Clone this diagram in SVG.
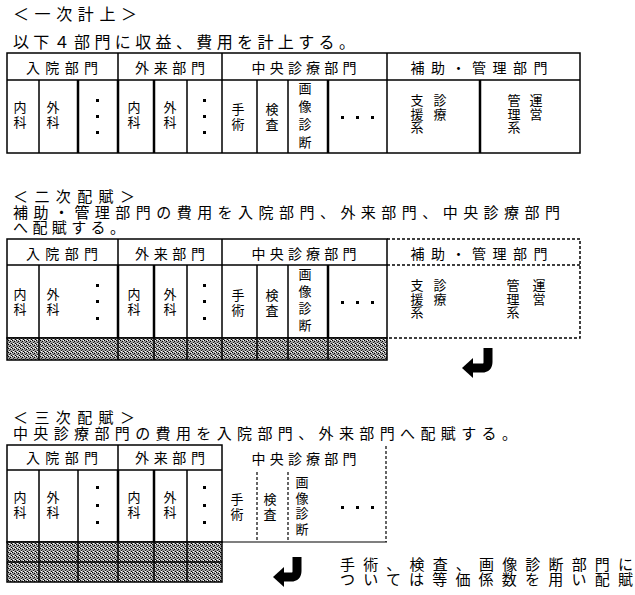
<svg xmlns="http://www.w3.org/2000/svg" width="635" height="595" viewBox="0 0 635 595">
<style>
.t{font-family:"Noto Sans CJK JP","Noto Sans CJK SC",sans-serif;fill:#000}
.ti{font-size:16px}
.ti2{font-size:15px}
.hd{font-size:14px;text-anchor:middle}
.vt{font-size:13px;writing-mode:vertical-rl;text-anchor:start}
.s2{letter-spacing:2px}
.s5{letter-spacing:5px}
.s4{letter-spacing:4px}
.s25{letter-spacing:2.5px}
.s05{letter-spacing:0.5px}
.ln{stroke:#000;stroke-width:1.5;fill:none}
.thk{stroke-width:2.5}
.dsh{stroke-dasharray:3,2}
.dot{fill:#000}
.sh{fill:url(#shade);stroke:#000;stroke-width:1.5}
.arr{stroke:#000;stroke-width:9;fill:none}
</style>
<defs>
<pattern id="shade" width="4" height="4" patternUnits="userSpaceOnUse">
<rect width="4" height="4" fill="#a0a0a0"/>
<rect x="0" y="0" width="1" height="1" fill="#000"/>
<rect x="2" y="1" width="1" height="1" fill="#000"/>
<rect x="1" y="2" width="1" height="1" fill="#222"/>
<rect x="3" y="3" width="1" height="1" fill="#000"/>
<rect x="3" y="0" width="1" height="1" fill="#fff"/>
<rect x="1" y="3" width="1" height="1" fill="#fff"/>
</pattern>
</defs>
<rect width="635" height="595" fill="#fff"/>

<!-- Section 1 titles -->
<g id="title1">
<text class="t ti" x="13" y="20" textLength="124" lengthAdjust="spacing">＜一次計上＞</text>
<text class="t ti" x="13" y="48" textLength="342" lengthAdjust="spacing">以下４部門に収益、費用を計上する。</text>
</g>

<!-- Table 1 -->
<g id="table1">
<rect class="ln" x="7" y="53" width="573" height="100"/>
<path class="ln" d="M7,80H580M118,53V80M222,53V80M387,53V80"/>
<path class="ln" d="M39,80V153M187,80V153M222,80V153M257,80V153M288,80V153M387,80V153"/>
<path class="ln thk" d="M78,80V153M118,80V153M154,80V153M328,80V153M480,80V153"/>
<g id="t1-inpatient">
<text class="t hd" x="62" y="73" textLength="72" lengthAdjust="spacing">入院部門</text>
<text class="t vt s2" x="20" y="101">内科</text>
<text class="t vt s2" x="53" y="101">外科</text>
<rect class="dot" x="96" y="99" width="3" height="3"/><rect class="dot" x="96" y="115" width="3" height="3"/><rect class="dot" x="96" y="131" width="3" height="3"/>
</g>
<g id="t1-outpatient">
<text class="t hd" x="170" y="73" textLength="70" lengthAdjust="spacing">外来部門</text>
<text class="t vt s2" x="134" y="101">内科</text>
<text class="t vt s2" x="170" y="101">外科</text>
<rect class="dot" x="203" y="99" width="3" height="3"/><rect class="dot" x="203" y="115" width="3" height="3"/><rect class="dot" x="203" y="131" width="3" height="3"/>
</g>
<g id="t1-central">
<text class="t hd" x="304" y="73" textLength="105" lengthAdjust="spacing">中央診療部門</text>
<text class="t vt s2" x="238" y="103">手術</text>
<text class="t vt s2" x="272" y="103">検査</text>
<text class="t vt s5" x="305" y="82">画像診断</text>
<rect class="dot" x="341" y="116" width="3" height="3"/><rect class="dot" x="356" y="116" width="3" height="3"/><rect class="dot" x="371" y="116" width="3" height="3"/>
</g>
<g id="t1-support">
<text class="t hd" x="479" y="73" textLength="137" lengthAdjust="spacing">補助・管理部門</text>
<text class="t vt s05" x="417" y="94">支援系</text>
<text class="t vt s05" x="440" y="94">診療</text>
<text class="t vt s05" x="514" y="94">管理系</text>
<text class="t vt s05" x="536" y="94">運営</text>
</g>
</g>

<!-- Section 2 titles -->
<g id="title2">
<text class="t ti2" x="13" y="202" textLength="122" lengthAdjust="spacing">＜二次配賦＞</text>
<text class="t ti2" x="13" y="218" textLength="547" lengthAdjust="spacing">補助・管理部門の費用を入院部門、外来部門、中央診療部門</text>
<text class="t ti2" x="13" y="233" textLength="112" lengthAdjust="spacing">へ配賦する。</text>
</g>

<!-- Table 2 -->
<g id="table2">
<rect class="ln" x="7" y="239" width="380" height="99"/>
<path class="ln" d="M7,265H387M118,239V265M222,239V265"/>
<path class="ln" d="M39,265V338M187,265V338M222,265V338M257,265V338M288,265V338"/>
<path class="ln thk" d="M118,265V338M154,265V338M328,265V338"/>
<g id="t2-shade">
<rect class="sh" x="7" y="338" width="380" height="22"/>
<path class="ln" d="M39,338V360M118,338V360M154,338V360M187,338V360M222,338V360M257,338V360M288,338V360M328,338V360"/>
</g>
<g id="t2-inpatient">
<text class="t hd" x="62" y="259" textLength="72" lengthAdjust="spacing">入院部門</text>
<text class="t vt s2" x="20" y="288">内科</text>
<text class="t vt s2" x="53" y="288">外科</text>
<rect class="dot" x="96" y="284" width="3" height="3"/><rect class="dot" x="96" y="300" width="3" height="3"/><rect class="dot" x="96" y="317" width="3" height="3"/>
</g>
<g id="t2-outpatient">
<text class="t hd" x="170" y="259" textLength="70" lengthAdjust="spacing">外来部門</text>
<text class="t vt s2" x="134" y="288">内科</text>
<text class="t vt s2" x="170" y="288">外科</text>
<rect class="dot" x="203" y="284" width="3" height="3"/><rect class="dot" x="203" y="300" width="3" height="3"/><rect class="dot" x="203" y="317" width="3" height="3"/>
</g>
<g id="t2-central">
<text class="t hd" x="304" y="259" textLength="105" lengthAdjust="spacing">中央診療部門</text>
<text class="t vt s2" x="238" y="289">手術</text>
<text class="t vt s2" x="272" y="289">検査</text>
<text class="t vt s4" x="305" y="268">画像診断</text>
<rect class="dot" x="341" y="301" width="3" height="3"/><rect class="dot" x="356" y="301" width="3" height="3"/><rect class="dot" x="371" y="301" width="3" height="3"/>
</g>
<g id="t2-support">
<path class="ln dsh" d="M387,239H580V338H387M387,265H580"/>
<text class="t hd" x="479" y="259" textLength="137" lengthAdjust="spacing">補助・管理部門</text>
<text class="t vt s05" x="417" y="279">支援系</text>
<text class="t vt s05" x="440" y="279">診療</text>
<text class="t vt s05" x="513" y="279">管理系</text>
<text class="t vt s05" x="539" y="279">運営</text>
</g>
</g>

<!-- Section 3 titles -->
<g id="title3">
<text class="t ti2" x="13" y="423" textLength="122" lengthAdjust="spacing">＜三次配賦＞</text>
<text class="t ti2" x="13" y="439" textLength="504" lengthAdjust="spacing">中央診療部門の費用を入院部門、外来部門へ配賦する。</text>
</g>

<!-- Table 3 -->
<g id="table3">
<rect class="ln" x="7" y="445" width="215" height="97"/>
<path class="ln" d="M7,470H222M118,445V470"/>
<path class="ln" d="M39,470V542M78,470V542M187,470V542"/>
<path class="ln thk" d="M118,470V542M154,470V542"/>
<g id="t3-shade">
<rect class="sh" x="7" y="542" width="215" height="40"/>
<path class="ln" d="M7,562H222M39,542V582M78,542V582M118,542V582M154,542V582M187,542V582"/>
</g>
<g id="t3-inpatient">
<text class="t hd" x="62" y="463" textLength="72" lengthAdjust="spacing">入院部門</text>
<text class="t vt s2" x="20" y="491">内科</text>
<text class="t vt s2" x="53" y="491">外科</text>
<rect class="dot" x="96" y="486" width="3" height="3"/><rect class="dot" x="96" y="504" width="3" height="3"/><rect class="dot" x="96" y="521" width="3" height="3"/>
</g>
<g id="t3-outpatient">
<text class="t hd" x="170" y="463" textLength="70" lengthAdjust="spacing">外来部門</text>
<text class="t vt s2" x="134" y="491">内科</text>
<text class="t vt s2" x="170" y="491">外科</text>
<rect class="dot" x="203" y="486" width="3" height="3"/><rect class="dot" x="203" y="504" width="3" height="3"/><rect class="dot" x="203" y="521" width="3" height="3"/>
</g>
<g id="t3-central">
<path class="ln dsh" d="M257,472V542M288,472V542M386,446V542" style="stroke-width:1.2"/>
<path class="ln" d="M222,542H387" style="stroke-width:1.2"/>
<text class="t hd" x="304" y="464" textLength="105" lengthAdjust="spacing">中央診療部門</text>
<text class="t vt s2" x="237" y="493">手術</text>
<text class="t vt s2" x="270" y="493">検査</text>
<text class="t vt s25" x="302" y="476">画像診断</text>
<rect class="dot" x="341" y="506" width="3" height="3"/><rect class="dot" x="356" y="506" width="3" height="3"/><rect class="dot" x="371" y="506" width="3" height="3"/>
</g>
</g>

<g id="note">
<text class="t ti2" x="340" y="570" textLength="293" lengthAdjust="spacing">手術、検査、画像診断部門に</text>
<text class="t ti2" x="340" y="585" textLength="293" lengthAdjust="spacing">ついては等価係数を用い配賦</text>
</g>

<!-- Connectors -->
<g id="connectors">
<path class="arr" d="M488,348V362Q488,368 482,368H471"/>
<polygon points="462,368 473,358 473,378" fill="#000"/>
<path class="arr" d="M297,557V571Q297,577 291,577H282"/>
<polygon points="273,577 284,567 284,587" fill="#000"/>
</g>
</svg>
